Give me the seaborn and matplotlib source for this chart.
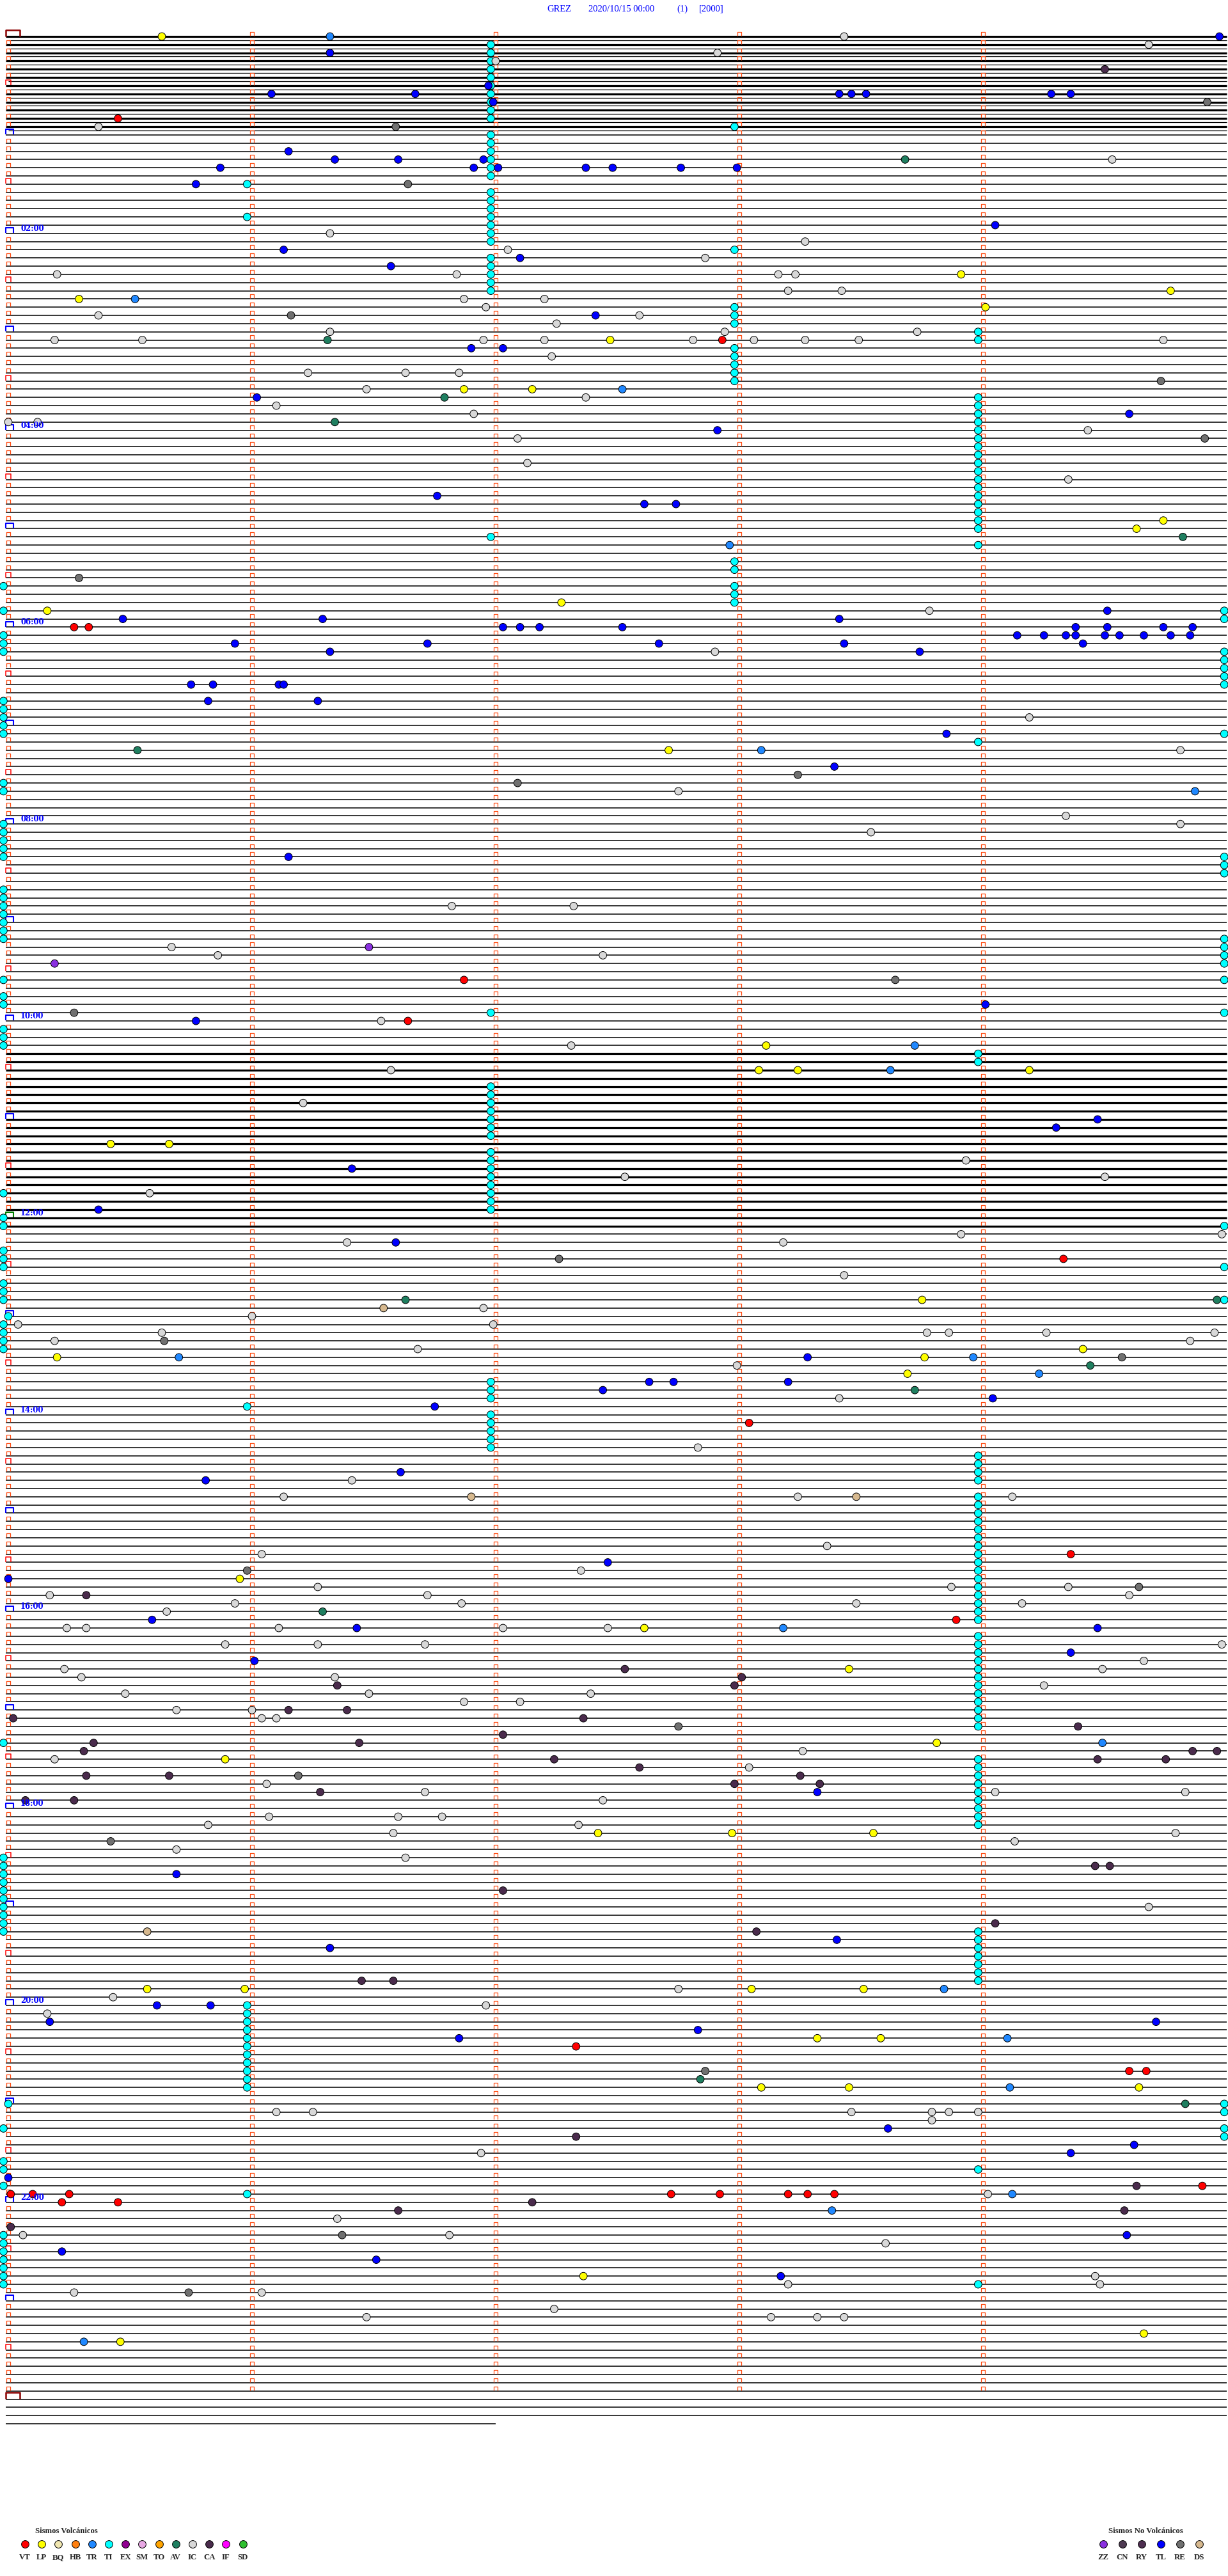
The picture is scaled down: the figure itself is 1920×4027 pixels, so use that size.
import pandas as pd
import seaborn as sns
import matplotlib
matplotlib.use('Agg')
import matplotlib.pyplot as plt
from matplotlib.path import Path

# helicorder GREZ 2020/10/15 : 5 minutes per row, events as (row, minute inside row)
title_parts = ['GREZ', '2020/10/15 00:00', '(1)', '[2000]']

n_rows = 288
noisy_rows = [0, 1, 2, 3, 4, 5, 6, 7, 8, 9, 10, 11,
              124, 125, 126, 127, 128, 129, 130, 131, 132, 133, 134, 135, 136,
              137, 138, 139, 140, 141, 142, 143, 144, 145]
hour_label_rows = [24, 48, 72, 96, 120, 144, 168, 192, 216, 240, 264]
hour_labels = ['02:00', '04:00', '06:00', '08:00', '10:00', '12:00',
               '14:00', '16:00', '18:00', '20:00', '22:00']

ti_events = [
    (1, 1.98), (2, 1.98), (3, 1.98), (4, 1.98), (5, 1.98), (6, 1.98), (7, 1.98),
    (8, 1.98), (9, 1.98), (10, 1.98), (12, 1.98), (13, 1.98), (14, 1.98), (15, 1.98),
    (16, 1.98), (17, 1.98), (19, 1.98), (20, 1.98), (21, 1.98), (22, 1.98), (23, 1.98),
    (24, 1.98), (25, 1.98), (27, 1.98), (28, 1.98), (29, 1.98), (30, 1.98), (31, 1.98),
    (11, 2.98), (26, 2.98), (33, 2.98), (34, 2.98), (35, 2.98), (38, 2.98), (39, 2.98),
    (40, 2.98), (41, 2.98), (42, 2.98), (18, 0.98), (22, 0.98),
    (36, 3.98), (37, 3.98), (44, 3.98), (45, 3.98), (46, 3.98), (47, 3.98),
    (48, 3.98), (49, 3.98), (50, 3.98), (51, 3.98), (52, 3.98), (53, 3.98), (54, 3.98),
    (55, 3.98), (56, 3.98), (57, 3.98), (58, 3.98), (59, 3.98), (60, 3.98), (62, 3.98),
    (86, 3.98), (61, 1.98), (64, 2.98), (65, 2.98), (67, 2.98), (68, 2.98), (69, 2.98),
    (67, -0.02), (70, -0.02), (73, -0.02), (74, -0.02), (75, -0.02), (81, -0.02),
    (82, -0.02), (83, -0.02), (84, -0.02), (85, -0.02), (91, -0.02), (92, -0.02),
    (70, 4.99), (71, 4.99), (75, 4.99), (76, 4.99), (77, 4.99), (78, 4.99), (79, 4.99),
    (85, 4.99),
    (96, -0.02), (97, -0.02), (98, -0.02), (99, -0.02), (100, -0.02), (104, -0.02),
    (105, -0.02), (106, -0.02), (107, -0.02), (108, -0.02), (109, -0.02), (110, -0.02),
    (115, -0.02), (117, -0.02), (118, -0.02), (121, -0.02), (122, -0.02), (123, -0.02),
    (141, -0.02),
    (100, 4.99), (101, 4.99), (102, 4.99), (110, 4.99), (111, 4.99), (112, 4.99),
    (113, 4.99), (115, 4.99), (119, 4.99),
    (119, 1.98), (128, 1.98), (129, 1.98), (130, 1.98), (131, 1.98), (132, 1.98),
    (133, 1.98), (134, 1.98), (136, 1.98), (137, 1.98), (138, 1.98), (139, 1.98),
    (140, 1.98), (141, 1.98), (142, 1.98), (143, 1.98), (124, 3.98), (125, 3.98),
    (144, -0.02), (145, -0.02), (148, -0.02), (149, -0.02), (150, -0.02), (152, -0.02),
    (153, -0.02), (154, -0.02), (156, 0.0), (157, -0.02), (158, -0.02), (159, -0.02),
    (160, -0.02), (145, 4.99), (150, 4.99), (154, 4.99),
    (164, 1.98), (165, 1.98), (166, 1.98), (168, 1.98), (169, 1.98), (170, 1.98),
    (171, 1.98), (172, 1.98), (167, 0.98),
    (173, 3.98), (174, 3.98), (175, 3.98), (176, 3.98), (178, 3.98), (179, 3.98),
    (180, 3.98), (181, 3.98), (182, 3.98), (183, 3.98), (184, 3.98), (185, 3.98),
    (186, 3.98), (187, 3.98), (188, 3.98), (189, 3.98), (190, 3.98), (191, 3.98),
    (192, 3.98), (193, 3.98), (195, 3.98), (196, 3.98), (197, 3.98), (198, 3.98),
    (199, 3.98), (200, 3.98), (201, 3.98), (202, 3.98), (203, 3.98), (204, 3.98),
    (205, 3.98), (206, 3.98), (210, 3.98), (211, 3.98), (212, 3.98), (213, 3.98),
    (214, 3.98), (215, 3.98), (216, 3.98), (217, 3.98), (218, 3.98), (231, 3.98),
    (232, 3.98), (233, 3.98), (234, 3.98), (235, 3.98), (236, 3.98), (237, 3.98),
    (208, -0.02), (222, -0.02), (223, -0.02), (224, -0.02), (225, -0.02), (226, -0.02),
    (227, -0.02), (228, -0.02), (229, -0.02), (230, -0.02), (231, -0.02),
    (240, 0.98), (241, 0.98), (242, 0.98), (243, 0.98), (244, 0.98), (245, 0.98),
    (246, 0.98), (247, 0.98), (248, 0.98), (249, 0.98), (250, 0.98), (263, 0.98),
    (252, 0.0), (255, -0.02), (259, -0.02), (260, -0.02), (262, -0.02), (268, -0.02),
    (269, -0.02), (270, -0.02), (271, -0.02), (272, -0.02), (273, -0.02), (274, -0.02),
    (252, 4.99), (253, 4.99), (255, 4.99), (256, 4.99), (260, 3.98), (274, 3.98),
]

tl_events = [
    (0, 4.97), (2, 1.32), (6, 1.97), (7, 1.08), (7, 1.67), (7, 3.41), (7, 3.46),
    (7, 3.52), (7, 4.28), (7, 4.36), (8, 1.99), (14, 1.15), (15, 1.34), (15, 1.6),
    (15, 1.95), (16, 0.87), (16, 1.91), (16, 2.01), (16, 2.37), (16, 2.48), (16, 2.76),
    (16, 2.99), (18, 0.77), (23, 4.05), (26, 1.13), (27, 2.1), (28, 1.57), (34, 2.41),
    (38, 1.9), (38, 2.03), (44, 1.02), (46, 4.6), (48, 2.91), (56, 1.76), (57, 2.61),
    (57, 2.74), (70, 4.51), (71, 0.47), (71, 1.29), (71, 3.41), (72, 2.03), (72, 2.1),
    (72, 2.18), (72, 2.52), (72, 4.38), (72, 4.51), (72, 4.74), (72, 4.86), (73, 4.14),
    (73, 4.25), (73, 4.34), (73, 4.38), (73, 4.5), (73, 4.56), (73, 4.66), (73, 4.77),
    (73, 4.85), (74, 0.93), (74, 1.72), (74, 2.67), (74, 3.43), (74, 4.41), (75, 1.32),
    (75, 3.74), (79, 0.75), (79, 0.84), (79, 1.11), (79, 1.13), (81, 0.82), (81, 1.27),
    (85, 3.85), (89, 3.39), (100, 1.15), (118, 4.01), (120, 0.77), (132, 4.47),
    (133, 4.3), (138, 1.41), (143, 0.37), (147, 1.59), (161, 3.28), (164, 2.63),
    (164, 2.73), (164, 3.2), (165, 2.44), (166, 4.04), (167, 1.75), (175, 1.61),
    (176, 0.81), (186, 2.46), (188, 0.0), (193, 0.59), (194, 1.43), (194, 4.47),
    (197, 4.36), (198, 1.01), (214, 3.32), (224, 0.69), (232, 3.4), (233, 1.32),
    (240, 0.61), (240, 0.83), (242, 0.17), (242, 4.71), (243, 2.83), (244, 1.85),
    (255, 3.61), (257, 4.62), (258, 4.36), (261, 0.0), (268, 4.59), (270, 0.22),
    (271, 1.51), (273, 3.17),
]

ic_events = [
    (0, 3.43), (1, 4.68), (2, 2.91), (3, 2.0), (11, 0.37), (15, 4.53), (24, 1.32),
    (25, 3.27), (26, 2.05), (27, 2.86), (29, 0.2), (29, 1.84), (29, 3.16), (29, 3.23),
    (31, 3.2), (31, 3.42), (32, 1.87), (32, 2.2), (33, 1.96), (34, 0.37), (34, 2.59),
    (35, 2.25), (36, 1.32), (36, 2.94), (36, 3.73), (37, 0.19), (37, 0.55), (37, 1.95),
    (37, 2.2), (37, 2.81), (37, 3.06), (37, 3.27), (37, 3.49), (37, 4.74), (39, 2.23),
    (41, 1.23), (41, 1.63), (41, 1.85), (43, 1.47), (44, 2.37), (45, 1.1), (46, 1.91),
    (47, 0.0), (47, 0.12), (48, 4.43), (49, 2.09), (52, 2.13), (54, 4.35), (70, 3.78),
    (75, 2.9), (83, 4.19), (87, 4.81), (92, 2.75), (95, 4.34), (96, 4.81), (97, 3.54),
    (106, 1.82), (106, 2.32), (111, 0.67), (112, 0.86), (112, 2.44), (120, 1.53),
    (123, 2.31), (126, 1.57), (130, 1.21), (137, 3.93), (139, 2.53), (139, 4.5),
    (141, 0.58), (146, 3.91), (146, 4.98), (147, 1.39), (147, 3.18), (151, 3.43),
    (155, 1.95), (156, 1.0), (157, 0.04), (157, 1.99), (158, 0.63), (158, 3.77),
    (158, 3.86), (158, 4.26), (158, 4.95), (159, 0.19), (159, 4.85), (160, 1.68),
    (162, 2.99), (166, 3.41), (172, 2.83), (176, 1.41), (178, 1.13), (178, 3.24),
    (178, 4.12), (184, 3.36), (185, 1.04), (187, 2.35), (189, 1.27), (189, 3.87),
    (189, 4.35), (190, 0.17), (190, 1.72), (190, 4.6), (191, 0.93), (191, 1.86),
    (191, 3.48), (191, 4.16), (192, 0.65), (194, 0.24), (194, 0.32), (194, 1.11),
    (194, 2.03), (194, 2.46), (196, 0.89), (196, 1.27), (196, 1.71), (196, 4.98),
    (198, 4.66), (199, 0.23), (199, 4.49), (200, 0.3), (200, 1.34), (201, 4.25),
    (202, 0.48), (202, 1.48), (202, 2.39), (203, 1.87), (203, 2.1), (204, 0.69),
    (204, 1.0), (205, 1.04), (205, 1.1), (209, 3.26), (210, 0.19), (211, 3.04),
    (213, 1.06), (214, 1.71), (214, 4.05), (214, 4.83), (215, 2.44), (217, 1.07),
    (217, 1.6), (217, 1.78), (218, 0.82), (218, 2.34), (219, 1.58), (219, 4.79),
    (220, 4.13), (221, 0.69), (222, 1.63), (228, 4.68), (238, 2.75), (239, 0.43),
    (240, 1.96), (241, 0.16), (253, 1.1), (253, 1.25), (253, 3.46), (253, 3.79),
    (253, 3.86), (253, 3.98), (254, 3.79), (258, 1.94), (263, 4.02), (266, 1.35),
    (268, 0.06), (268, 1.81), (269, 3.6), (273, 4.46), (274, 3.2), (274, 4.48),
    (275, 0.27), (275, 1.04), (277, 2.24), (278, 1.47), (278, 3.13), (278, 3.32),
    (278, 3.43),
]

vt_events = [
    (10, 0.45), (37, 2.93), (72, 0.27), (72, 0.33), (115, 1.87), (120, 1.64),
    (149, 4.33), (169, 3.04), (185, 4.36), (193, 3.89), (245, 2.33), (248, 4.6),
    (248, 4.67), (262, 4.9), (263, 0.01), (263, 0.1), (263, 0.25), (263, 2.72),
    (263, 2.92), (263, 3.2), (263, 3.28), (263, 3.39), (264, 0.22), (264, 0.45),
]

lp_events = [
    (0, 0.63), (29, 3.91), (31, 4.77), (32, 0.29), (33, 4.01), (37, 2.47), (43, 1.87),
    (43, 2.15), (59, 4.74), (60, 4.63), (69, 2.27), (70, 0.16), (87, 2.71), (123, 3.11),
    (126, 3.08), (126, 3.24), (126, 4.19), (135, 0.42), (135, 0.66), (154, 3.75),
    (160, 4.41), (161, 0.2), (161, 3.76), (163, 3.69), (188, 0.95), (194, 2.61),
    (199, 3.45), (208, 3.81), (210, 0.89), (219, 2.42), (219, 2.97), (219, 3.55),
    (238, 0.57), (238, 0.97), (238, 3.05), (238, 3.51), (244, 3.32), (244, 3.58),
    (250, 3.09), (250, 3.45), (250, 4.64), (273, 2.36), (280, 4.66), (281, 0.46),
]

tr_events = [
    (0, 1.32), (32, 0.52), (43, 2.52), (62, 2.96), (87, 3.09), (92, 4.87), (123, 3.72),
    (126, 3.62), (161, 0.7), (161, 3.96), (163, 4.23), (194, 3.18), (208, 4.49),
    (238, 3.84), (244, 4.1), (250, 4.11), (263, 4.12), (265, 3.38), (281, 0.31),
]

av_events = [
    (15, 3.68), (37, 1.31), (44, 1.79), (47, 1.34), (61, 4.82), (87, 0.53), (154, 1.63),
    (154, 4.96), (162, 4.44), (165, 3.72), (192, 1.29), (249, 2.84), (252, 4.83),
]

ca_events = [
    (4, 4.5), (190, 0.32), (199, 2.53), (200, 3.01), (201, 1.35), (201, 2.98),
    (204, 1.15), (204, 1.39), (205, 0.02), (205, 2.36), (206, 4.39), (207, 2.03),
    (208, 0.35), (208, 1.44), (209, 0.31), (209, 4.86), (209, 4.96), (210, 2.24),
    (210, 4.47), (210, 4.75), (211, 2.59), (212, 0.32), (212, 0.66), (212, 3.25),
    (213, 2.98), (213, 3.33), (214, 1.28), (215, 0.07), (215, 0.27), (223, 4.46),
    (223, 4.52), (226, 2.03), (230, 4.05), (231, 3.07), (237, 1.45), (237, 1.58),
    (256, 2.33), (262, 4.63), (264, 2.15), (265, 1.6), (265, 4.58), (267, 0.01),
]

re_events = [
    (8, 4.92), (11, 1.59), (18, 1.64), (34, 1.16), (42, 4.73), (49, 4.91), (66, 0.29),
    (90, 3.24), (91, 2.09), (115, 3.64), (119, 0.27), (149, 2.26), (159, 0.64),
    (161, 4.57), (187, 0.98), (189, 4.64), (206, 2.75), (212, 1.19), (220, 0.42),
    (248, 2.86), (268, 1.37), (275, 0.74),
]

zz_events = [(111, 1.48), (113, 0.19)]
ds_events = [(155, 1.54), (178, 1.9), (178, 3.48), (231, 0.57)]

volc_codes = ['VT', 'LP', 'BQ', 'HB', 'TR', 'TI', 'EX', 'SM', 'TO', 'AV', 'IC', 'CA', 'IF', 'SD']
novolc_codes = ['ZZ', 'CN', 'RY', 'TL', 'RE', 'DS']

colors = {
    'VT': '#ff0000', 'LP': '#ffff00', 'BQ': '#f0e6b0', 'HB': '#ff8010', 'TR': '#2088ff',
    'TI': '#00ffff', 'EX': '#900090', 'SM': '#e8a8e4', 'TO': '#ffa400', 'AV': '#1f7f60',
    'IC': '#d8d8d8', 'CA': '#4a2b4c', 'IF': '#ff00ff', 'SD': '#30c030',
    'ZZ': '#8a30e0', 'CN': '#4e3a52', 'RY': '#4e2e50', 'TL': '#0000ff', 'RE': '#707070',
    'DS': '#d6b88e',
}

event_lists = [('TI', ti_events), ('IC', ic_events), ('RE', re_events), ('AV', av_events),
               ('CA', ca_events), ('ZZ', zz_events), ('DS', ds_events), ('LP', lp_events),
               ('TR', tr_events), ('VT', vt_events), ('TL', tl_events)]

records = []
for code, evs in event_lists:
    for row, minute in evs:
        records.append({'row': row, 'minute': minute, 'tipo': code})
events = pd.DataFrame(records)

sns.set_theme(style='white')
plt.rcParams['font.family'] = ['Liberation Serif', 'DejaVu Serif']

W, H = 1920, 4027
x0_px, min_px = 13, 381.0
y0_px, row_px = 57, 12.825

fig = plt.figure(figsize=(W / 100, H / 100), dpi=100)
ax = fig.add_axes([0, 0, 1, 1])
ax.set_xlim(-x0_px / min_px, (W - x0_px) / min_px)
ax.set_ylim((H - y0_px) / row_px, -y0_px / row_px)
ax.axis('off')

# traces
quiet = [r for r in range(n_rows + 3) if r not in noisy_rows]
ax.hlines(quiet, -0.01, 5.0, colors='black', linewidth=1.1, zorder=1)
ax.hlines(noisy_rows, -0.01, 5.0, colors='black', linewidth=2.3, zorder=1)
ax.hlines([r + 0.45 for r in noisy_rows[:12]], 0.0, 5.0, colors='black', linewidth=0.9, zorder=1)
ax.hlines([n_rows + 3], -0.01, 2.0, colors='black', linewidth=1.1, zorder=1)

# minute marks
bracket = Path([(-1, -1), (-1, 1), (1, 1), (1, -1)])
wide_bracket = Path([(-1.5, -1), (-1.5, 1), (1.5, 1), (1.5, -1)])
long_bracket = Path([(-2.2, -1), (-2.2, 1), (2.2, 1), (2.2, -1)])
for r in range(n_rows):
    ticks = [1, 2, 3, 4] if r % 6 == 0 else [0, 1, 2, 3, 4]
    ax.plot(ticks, [r - 0.32] * len(ticks), linestyle='none', marker=bracket,
            markersize=4.0, markerfacecolor='none', markeredgecolor='#ff4a10',
            markeredgewidth=0.9, zorder=2)
    if r == 0:
        continue
    if r % 12 == 0:
        col = '#008000' if r == 144 else '#0000ff'
        ax.plot([0.005], [r - 0.36], linestyle='none', marker=wide_bracket, markersize=8.6,
                markerfacecolor='none', markeredgecolor=col, markeredgewidth=1.5, zorder=2)
    elif r % 6 == 0:
        ax.plot([0.0], [r - 0.36], linestyle='none', marker=bracket, markersize=6.0,
                markerfacecolor='none', markeredgecolor='#ff0000', markeredgewidth=1.1, zorder=2)
for r in [0, n_rows]:
    ax.plot([0.018], [r - 0.42], linestyle='none', marker=long_bracket, markersize=15.5,
            markerfacecolor='none', markeredgecolor='#8b0000', markeredgewidth=1.8, zorder=2)

for r, lab in zip(hour_label_rows, hour_labels):
    ax.text(0.05, r - 0.08, lab, color='#0000ff', fontsize=8.4, fontweight='bold',
            family=['DejaVu Serif'], ha='left', va='bottom', zorder=4)

sns.scatterplot(data=events, x='minute', y='row', hue='tipo', palette=colors, s=72,
                edgecolor='black', linewidth=0.7, legend=False, ax=ax, zorder=3)
ax.set_xlim(-x0_px / min_px, (W - x0_px) / min_px)
ax.set_ylim((H - y0_px) / row_px, -y0_px / row_px)
ax.axis('off')

# title and legend in pixel space
ov = fig.add_axes([0, 0, 1, 1], facecolor='none')
ov.set_xlim(0, W)
ov.set_ylim(H, 0)
ov.axis('off')
for txt, xp in zip(title_parts, [855, 920, 1058, 1093]):
    ov.text(xp, 14, txt, color='#0000ff', fontsize=10.5, ha='left', va='center')

ov.text(55, 3957, 'Sismos Volcánicos', fontsize=9.2, fontweight='bold', ha='left', va='center')
ov.text(1733, 3957, 'Sismos No Volcánicos', fontsize=9.2, fontweight='bold', ha='left', va='center')
for i, code in enumerate(volc_codes):
    xp = 39 + i * 26.2
    ov.scatter([xp], [3977], s=72, color=colors[code], edgecolor='black', linewidth=0.7)
    ov.text(xp, 3998, code, fontsize=9.2, fontweight='bold', ha='center', va='center')
for i, code in enumerate(novolc_codes):
    xp = 1725 + i * 30
    ov.scatter([xp], [3977], s=72, color=colors[code], edgecolor='black', linewidth=0.7)
    ov.text(xp, 3998, code, fontsize=9.2, fontweight='bold', ha='center', va='center')

fig.savefig('out.png', dpi=100)
